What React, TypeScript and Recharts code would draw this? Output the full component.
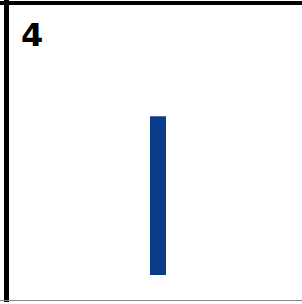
import React from 'react'
import { BarChart, Bar, XAxis, YAxis } from 'recharts'

const categories = ['4']
const values = [4]
const yDomain: [number, number] = [0, 6]

const chartData = categories.map((name, i) => ({ name, value: values[i] }))

export default function App() {
  return (
    <div style={{ position: 'absolute', left: 0, top: 0, width: 302, height: 304, background: '#fff' }}>
      <BarChart
        width={302}
        height={304}
        data={chartData}
        margin={{ top: 37, right: 0, bottom: 29, left: 14 }}
      >
        <XAxis dataKey="name" hide />
        <YAxis domain={yDomain} hide />
        <Bar dataKey="value" fill="#0b3c8c" barSize={16} isAnimationActive={false} />
      </BarChart>
      {/* frame */}
      <div style={{ position: 'absolute', left: 0, top: 1, width: 302, height: 4, background: '#000' }} />
      <div style={{ position: 'absolute', left: 4, top: 0, width: 5, height: 302, background: '#000' }} />
      <div style={{ position: 'absolute', left: 0, top: 300, width: 302, height: 1, background: '#888' }} />
      <div
        style={{
          position: 'absolute',
          left: 21,
          top: 19,
          fontFamily: '"DejaVu Sans", sans-serif',
          fontWeight: 'bold',
          fontSize: 32,
          lineHeight: '32px',
          color: '#000',
        }}
      >
        {categories[0]}
      </div>
    </div>
  )
}
